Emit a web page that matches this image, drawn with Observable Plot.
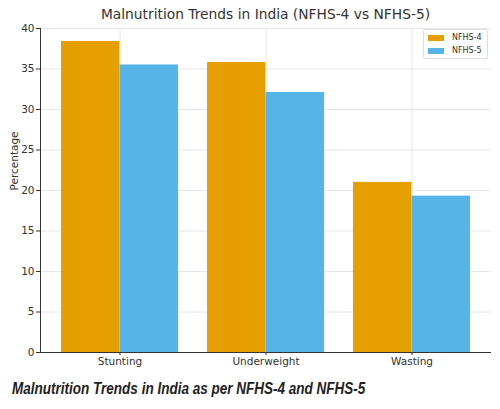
<!DOCTYPE html>
<html>
<head>
<meta charset="utf-8">
<script src="https://cdn.jsdelivr.net/npm/d3@7"></script>
<script src="https://cdn.jsdelivr.net/npm/@observablehq/plot@0.6"></script>
<style>
  html, body { margin: 0; padding: 0; background: #fff; }
  #wrap { position: relative; width: 500px; height: 409px; overflow: hidden; background: #fff; }
  #title { position: absolute; top: 6px; left: 40px; width: 451px; text-align: center;
           font-family: "DejaVu Sans", sans-serif; font-size: 13.8px; color: #333; }
  #chart { position: absolute; top: 0; left: 0; }
  #legend { position: absolute; left: 423px; top: 29px; width: 63px; height: 28px;
            border: 1px solid #ddd; border-radius: 2px; background: #fff;
            font-family: "DejaVu Sans", sans-serif; font-size: 8px; color: #333; }
  .row { position: absolute; left: 4px; display: flex; align-items: center; line-height: 10px; }
  .sw { width: 16px; height: 6px; margin-right: 8px; }
  #caption { position: absolute; top: 379px; left: 12px; white-space: nowrap;
             transform: scaleX(0.83); transform-origin: left center;
             font-family: "Liberation Sans", Arial, sans-serif; font-weight: bold; font-style: italic;
             font-size: 16.3px; color: #222; }
</style>
</head>
<body>
<div id="wrap">
  <div id="chart"></div>
  <div id="title">Malnutrition Trends in India (NFHS-4 vs NFHS-5)</div>
  <div id="legend"></div>
  <div id="caption">Malnutrition Trends in India as per NFHS-4 and NFHS-5</div>
</div>
<script>
const categories = ["Stunting", "Underweight", "Wasting"];
const surveys = ["NFHS-4", "NFHS-5"];
const nfhs4 = [38.4, 35.8, 21.0];
const nfhs5 = [35.5, 32.1, 19.3];
const yTicks = [0, 5, 10, 15, 20, 25, 30, 35, 40];
const colors = ["#E69F00", "#56B4E9"];

const rows4 = categories.map((c, i) => ({category: c, survey: surveys[0], value: nfhs4[i]}));
const rows5 = categories.map((c, i) => ({category: c, survey: surveys[1], value: nfhs5[i]}));

const width = 500, marginLeft = 40, marginRight = 9;
// half of the band width (pixels) — each survey takes one half of a category band
const halfBand = 58.6;

const chart = Plot.plot({
  width,
  height: 372,
  marginTop: 28,
  marginLeft,
  marginRight,
  marginBottom: 20,
  style: {fontFamily: "DejaVu Sans, sans-serif", fontSize: "10.5px", color: "#333", background: "transparent"},
  x: {domain: categories, paddingInner: 0.2, paddingOuter: 0.14, label: null},
  y: {domain: [0, 40], ticks: yTicks, label: null},
  color: {domain: surveys, range: colors},
  marks: [
    Plot.gridY(yTicks, {stroke: "#e6e6e6", strokeOpacity: 1}),
    Plot.gridX({stroke: "#e6e6e6", strokeOpacity: 1}),
    Plot.barY(rows4, {x: "category", y: "value", fill: "survey", insetLeft: 0, insetRight: halfBand}),
    Plot.barY(rows5, {x: "category", y: "value", fill: "survey", insetLeft: halfBand, insetRight: 0}),
    Plot.axisY(yTicks, {tickSize: 4, tickPadding: 2, stroke: "#333", label: null}),
    Plot.axisX({tickSize: 3, tickPadding: 2, stroke: "#333", label: null}),
    Plot.frame({anchor: "left", stroke: "#333"}),
    Plot.ruleY([0], {stroke: "#333"}),
    Plot.text(["Percentage"], {frameAnchor: "left", dx: -26, rotate: -90, fontSize: 10.5, fill: "#333"})
  ]
});
document.getElementById("chart").appendChild(chart);

const legend = document.getElementById("legend");
surveys.forEach((s, i) => {
  const row = document.createElement("div");
  row.className = "row";
  row.style.top = (3 + i * 13) + "px";
  row.innerHTML = `<span class="sw" style="background:${colors[i]}"></span><span>${s}</span>`;
  legend.appendChild(row);
});
</script>
</body>
</html>
